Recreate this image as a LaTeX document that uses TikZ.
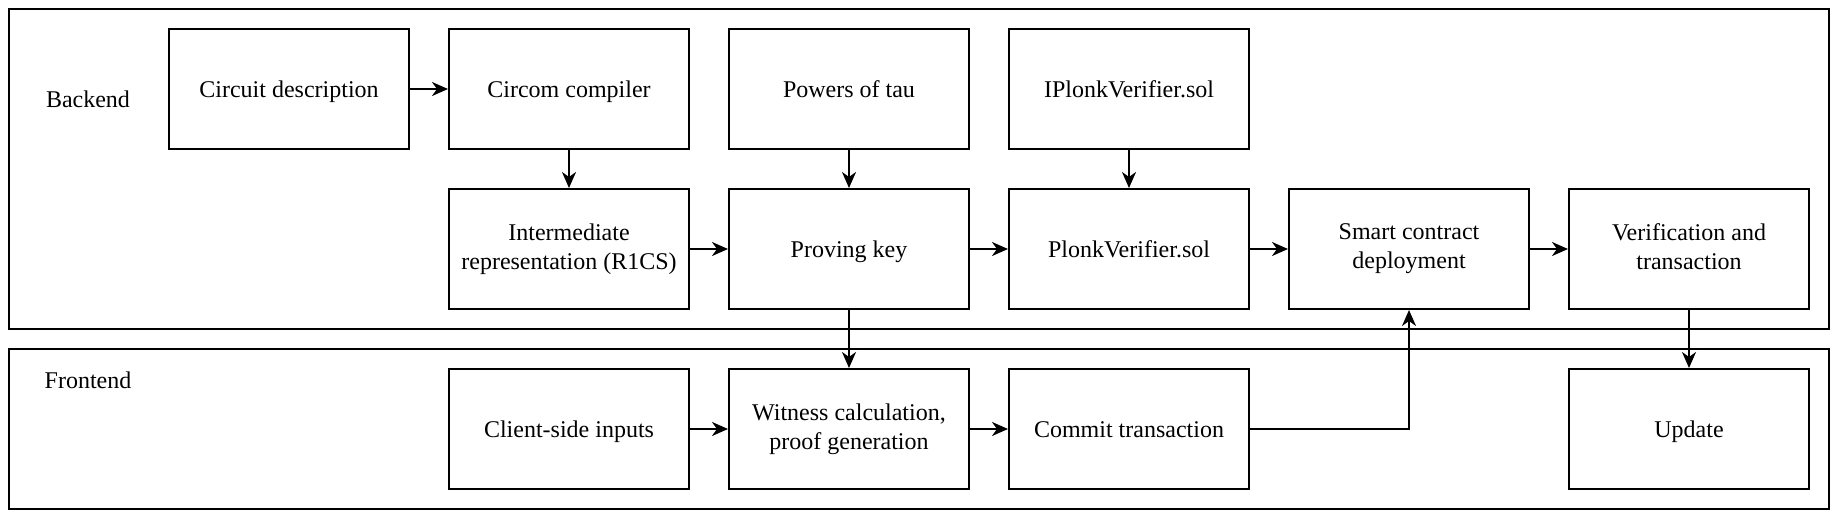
\documentclass[tikz,border=0pt]{standalone}
\usepackage{fontspec}
\setmainfont{Liberation Serif}
\usetikzlibrary{arrows.meta}
\newcommand{\boxstrut}{\rule[-0.216em]{0pt}{1.107em}}
\begin{document}
\begin{tikzpicture}[x=1pt,y=-1pt,
  box/.style={draw, line width=2pt, minimum width=240pt, minimum height=120pt, inner sep=0pt, align=center, font=\fontsize{24}{29}\selectfont, execute at begin node=\boxstrut, execute at end node=\boxstrut},
  group/.style={draw, line width=2pt},
  lbl/.style={font=\fontsize{24}{29}\selectfont, inner sep=0pt},
  conn/.style={line width=2pt, -{Stealth[length=16pt,width=14pt,inset=5pt]}}
]
\useasboundingbox (0,0) rectangle (1840,524);
\draw[group] (9,9) rectangle (1829,329);
\draw[group] (9,349) rectangle (1829,509);
\node[lbl] (backend) at (88,99) {Backend};
\node[lbl] (frontend) at (88,380) {Frontend};
% row 1
\node[box] (circ) at (289,89) {Circuit description};
\node[box] (circom) at (569,89) {Circom compiler};
\node[box] (tau) at (849,89) {Powers of tau};
\node[box] (iplonk) at (1129,89) {IPlonkVerifier.sol};
% row 2
\node[box] (ir) at (569,249) {Intermediate\\representation (R1CS)};
\node[box] (pk) at (849,249) {Proving key};
\node[box] (plonk) at (1129,249) {PlonkVerifier.sol};
\node[box] (smart) at (1409,249) {Smart contract\\deployment};
\node[box] (verif) at (1689,249) {Verification and\\transaction};
% row 3
\node[box] (client) at (569,429) {Client-side inputs};
\node[box] (witness) at (849,429) {Witness calculation,\\proof generation};
\node[box] (commit) at (1129,429) {Commit transaction};
\node[box] (update) at (1689,429) {Update};
% connectors
\draw[conn] (circ) -- (circom);
\draw[conn] (circom) -- (ir);
\draw[conn] (tau) -- (pk);
\draw[conn] (iplonk) -- (plonk);
\draw[conn] (ir) -- (pk);
\draw[conn] (pk) -- (plonk);
\draw[conn] (plonk) -- (smart);
\draw[conn] (smart) -- (verif);
\draw[conn] (pk) -- (witness);
\draw[conn] (client) -- (witness);
\draw[conn] (witness) -- (commit);
\draw[conn] (commit.east) -| (smart.south);
\draw[conn] (verif) -- (update);
\end{tikzpicture}
\end{document}
